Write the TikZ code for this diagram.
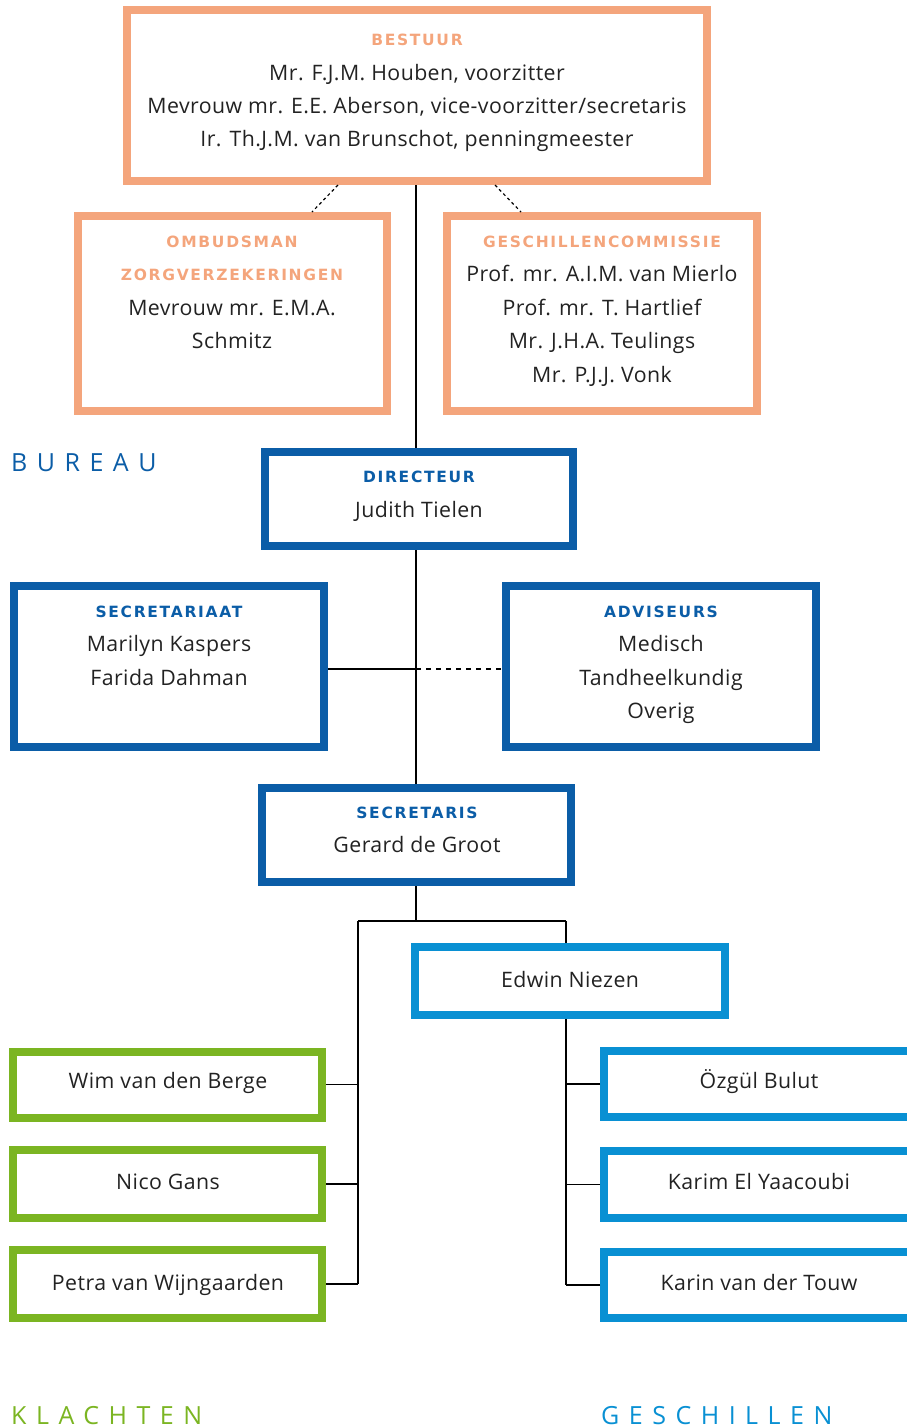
\documentclass[tikz,border=0pt]{standalone}
\usepackage{fontspec}
\setmainfont{Open Sans}
\newfontfamily\bodyfont[LetterSpace=2]{Open Sans}
\newfontfamily\hfont[LetterSpace=11]{DejaVu Sans}
\newfontfamily\tfont[LetterSpace=38]{Open Sans}
\definecolor{orng}{HTML}{F4A57C}
\definecolor{dblue}{HTML}{0B5DA7}
\definecolor{lblue}{HTML}{0990D3}
\definecolor{grn}{HTML}{7BB522}
\definecolor{txt}{HTML}{222222}
\tikzset{
  box/.style={draw=#1, line width=8pt, fill=none, inner sep=0pt},
  body/.style={anchor=base, inner sep=0pt, text=txt, font=\bodyfont\fontsize{21.3}{21.3}\selectfont},
  head/.style={anchor=base, inner sep=0pt, text=#1, font=\hfont\bfseries\fontsize{15.5}{15.5}\selectfont},
  title/.style={anchor=base west, inner sep=0pt, text=#1, font=\tfont\fontsize{25}{25}\selectfont},
  conn/.style={draw=black, line width=1.2pt},
  dconn/.style={conn, dash pattern=on 5pt off 5pt},
  ddconn/.style={conn, dash pattern=on 3pt off 3pt},
}
\begin{document}
\begin{tikzpicture}[x=1pt,y=-1pt]
\clip (0,0) rectangle (907,1428);
\useasboundingbox (0,0) rectangle (907,1428);
% boxes
\node[box=orng, minimum width=580pt, minimum height=171pt] (bestuur) at (417,95.5) {};
\node[box=orng, minimum width=309pt, minimum height=195pt] (omb) at (232.5,313.5) {};
\node[box=orng, minimum width=310pt, minimum height=195pt] (gesch) at (602,313.5) {};
\node[box=dblue, minimum width=308pt, minimum height=94pt] (dir) at (419,499) {};
\node[box=dblue, minimum width=310pt, minimum height=161pt] (secr) at (169,666.5) {};
\node[box=dblue, minimum width=310pt, minimum height=161pt] (adv) at (661,666.5) {};
\node[box=dblue, minimum width=309pt, minimum height=94pt] (sec) at (416.5,835) {};
\node[box=lblue, minimum width=310pt, minimum height=68pt] (edwin) at (570,981) {};
\node[box=grn, minimum width=309pt, minimum height=66pt] (wim) at (167.5,1084.5) {};
\node[box=grn, minimum width=309pt, minimum height=68pt] (nico) at (167.5,1184) {};
\node[box=grn, minimum width=309pt, minimum height=68pt] (petra) at (167.5,1284) {};
\node[box=lblue, minimum width=331pt, minimum height=66pt] (ozgul) at (769.5,1084) {};
\node[box=lblue, minimum width=331pt, minimum height=67pt] (karim) at (769.5,1184.5) {};
\node[box=lblue, minimum width=331pt, minimum height=66pt] (karin) at (769.5,1285) {};
% texts
\node[head=orng] (t1) at (417,45.5) {BESTUUR};
\node[body] (t2) at (417,80) {Mr. F.J.M. Houben, voorzitter};
\node[body] (t3) at (417,113) {Mevrouw mr. E.E. Aberson, vice-voorzitter/secretaris};
\node[body] (t4) at (417,146.5) {Ir. Th.J.M. van Brunschot, penningmeester};
\node[head=orng] (t5) at (232,247.5) {OMBUDSMAN};
\node[head=orng] (t6) at (232,280.5) {ZORGVERZEKERINGEN};
\node[body] (t7) at (232,315.5) {Mevrouw mr. E.M.A.};
\node[body] (t8) at (232,348.5) {Schmitz};
\node[head=orng] (t9) at (602,247.5) {GESCHILLENCOMMISSIE};
\node[body] (t10) at (602,281.5) {Prof. mr. A.I.M. van Mierlo};
\node[body] (t11) at (602,315.5) {Prof. mr. T. Hartlief};
\node[body] (t12) at (602,348.5) {Mr. J.H.A. Teulings};
\node[body] (t13) at (602,382.5) {Mr. P.J.J. Vonk};
\node[title=dblue] (bureau) at (11,471) {BUREAU};
\node[head=dblue] (t14) at (419,482.5) {DIRECTEUR};
\node[body] (t15) at (419,517.5) {Judith Tielen};
\node[head=dblue] (t16) at (169,617.5) {SECRETARIAAT};
\node[body] (t17) at (169,651.5) {Marilyn Kaspers};
\node[body] (t18) at (169,685.5) {Farida Dahman};
\node[head=dblue] (t19) at (661,617.5) {ADVISEURS};
\node[body] (t20) at (661,651.5) {Medisch};
\node[body] (t21) at (661,685.5) {Tandheelkundig};
\node[body] (t22) at (661,718.5) {Overig};
\node[head=dblue] (t23) at (417,818.5) {SECRETARIS};
\node[body] (t24) at (417,852.5) {Gerard de Groot};
\node[body] (t25) at (570,987.5) {Edwin Niezen};
\node[body] (t26) at (168,1088.5) {Wim van den Berge};
\node[body] (t27) at (168,1189.5) {Nico Gans};
\node[body] (t28) at (168,1290.5) {Petra van Wijngaarden};
\node[body] (t29) at (759,1088.5) {Özgül Bulut};
\node[body] (t30) at (759,1189.5) {Karim El Yaacoubi};
\node[body] (t31) at (759,1290.5) {Karin van der Touw};
\node[title=grn] (klachten) at (11,1424) {KLACHTEN};
\node[title=lblue] (geschillen) at (601,1424) {GESCHILLEN};
% connector helpers
\coordinate (spine) at (416,0);
\coordinate (hrow) at (0,669);
\coordinate (split) at (0,921);
\coordinate (lcol) at (358,0);
\coordinate (rcol) at (566,0);
% connectors
\draw[conn] (spine |- bestuur.south) -- (spine |- dir.north);
\draw[conn] (spine |- dir.south) -- (spine |- sec.north);
\draw[ddconn] ([xshift=-79pt]bestuur.south) -- ([xshift=79.5pt]omb.north);
\draw[ddconn] ([xshift=78pt]bestuur.south) -- ([xshift=-81pt]gesch.north);
\draw[conn] (secr.east |- hrow) -- (spine |- hrow);
\draw[dconn] (spine |- hrow) -- (adv.west |- hrow);
\draw[conn] (spine |- sec.south) -- (spine |- split);
\draw[conn] (lcol |- split) -- (rcol |- split);
\draw[conn] (lcol |- split) -- (lcol |- petra.east);
\draw[conn] (rcol |- split) -- (rcol |- edwin.north);
\draw[conn] (rcol |- edwin.south) -- (rcol |- karin.west);
\draw[conn] (wim.east) -- (lcol |- wim.east);
\draw[conn] (nico.east) -- (lcol |- nico.east);
\draw[conn] (petra.east) -- (lcol |- petra.east);
\draw[conn] (ozgul.west) -- (rcol |- ozgul.west);
\draw[conn] (karim.west) -- (rcol |- karim.west);
\draw[conn] (karin.west) -- (rcol |- karin.west);
\end{tikzpicture}
\end{document}
